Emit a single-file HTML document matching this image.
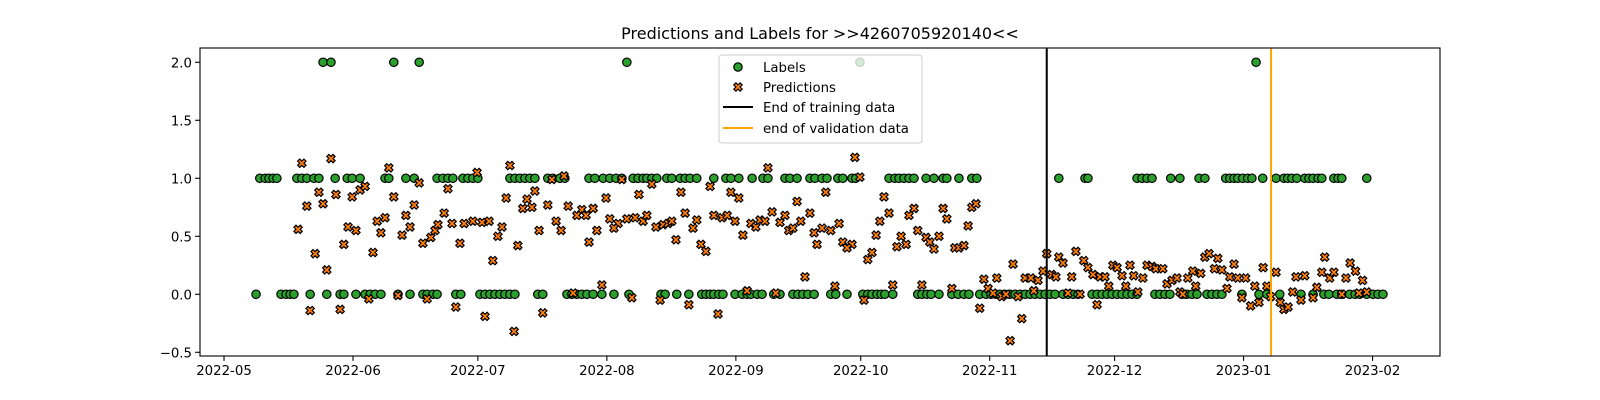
<!DOCTYPE html>
<html><head><meta charset="utf-8"><title>Predictions and Labels</title>
<style>
html,body{margin:0;padding:0;background:#fff;}
svg{display:block;font-family:"DejaVu Sans","Liberation Sans",sans-serif;}
</style></head>
<body>
<svg id="chart" width="1600" height="400" viewBox="0 0 1600 400" xmlns="http://www.w3.org/2000/svg">
<rect x="0" y="0" width="1600" height="400" fill="#fff"/>
<text x="820" y="39" font-size="16" text-anchor="middle">Predictions and Labels for &gt;&gt;4260705920140&lt;&lt;</text>
<g id="plot"></g>
<g id="legend">
<rect x="719" y="55" width="203" height="88" rx="3" fill="#fff" fill-opacity="0.8" stroke="#cccccc" stroke-width="1"/>
<g><circle cx="738" cy="67" r="4.2" fill="#2ca02c" stroke="#000" stroke-width="1.2"/><text x="763" y="72" font-size="13.3">Labels</text></g>
<g><path id="legX" fill="#ff7f0e" stroke="#000" stroke-width="1.2"/><text x="763" y="92" font-size="13.3">Predictions</text></g>
<g><line x1="723" y1="107" x2="753" y2="107" stroke="#000" stroke-width="2"/><text x="763" y="112" font-size="13.3">End of training data</text></g>
<g><line x1="723" y1="128" x2="753" y2="128" stroke="#ffa500" stroke-width="2"/><text x="763" y="133" font-size="13.3">end of validation data</text></g>
</g>
</svg>
<script>
// days since 2022-05-01
const label1Days=[8.6,9.9,10.8,11.8,12.7,17.5,18.7,19.9,21.6,22.8,26.7,29.6,30.8,32.7,38.7,39.6,43.7,45.7,51.2,52.6,53.8,55.0,57.4,58.6,59.8,61.0,68.7,69.9,71.1,72.3,73.5,74.7,77.8,79.0,80.7,81.9,87.7,89.1,91.1,92.7,94.2,95.6,98.3,99.5,100.7,101.6,102.8,104.0,106.4,107.6,109.6,110.8,112.0,113.6,117.7,120.6,121.8,123.7,126.9,129.5,130.7,134.8,136.0,137.7,140.8,142.0,143.7,144.9,147.5,148.7,150.9,151.8,159.8,161.2,162.2,163.4,164.6,165.8,168.7,170.6,172.8,173.7,176.6,179.7,180.9,200.6,206.9,207.6,219.4,220.6,221.8,223.0,227.5,229.7,234.3,235.7,240.7,241.7,242.7,243.6,244.8,246.0,247.0,249.6,252.8,254.7,255.6,256.6,257.8,259.7,260.7,261.7,262.9,263.8,266.7,267.7,268.6,274.6];
const label0Days=[7.7,13.7,14.9,15.9,16.8,20.7,24.7,27.9,28.8,31.7,33.9,35.1,36.3,37.7,41.8,44.7,47.8,48.8,50.2,51.2,55.7,56.9,61.5,62.7,63.9,65.1,66.3,67.5,68.7,69.9,75.4,76.6,82.4,83.6,84.8,86.0,87.2,88.7,90.8,93.7,97.3,105.0,106.0,108.8,111.7,114.8,115.8,116.8,117.7,118.9,119.9,122.8,124.5,125.7,126.6,128.1,129.3,132.1,133.6,136.7,137.9,139.1,140.3,141.8,145.8,147.0,149.7,153.5,154.7,155.7,156.9,157.9,158.8,160.7,166.7,167.7,168.9,169.9,171.8,174.9,176.4,177.8,179.0,181.6,183.1,184.3,185.5,186.4,187.6,188.9,190.1,191.3,192.5,193.7,194.9,196.1,197.3,198.5,199.7,201.6,202.8,204.0,205.2,208.6,209.8,211.0,212.2,213.4,214.6,215.8,217.0,218.2,219.4,223.7,224.9,226.1,227.3,230.2,231.4,232.6,233.8,236.2,237.4,238.6,239.8,244.6,248.7,250.6,253.7,258.8,261.7,264.3,265.5,267.4,268.6,270.5,271.8,272.9,274.6,276.1,277.3,278.5];
const label2Days=[23.8,25.7,40.8,46.9,96.8,152.8,248.0];
const predDays=[18.7,25.7,39.6,22.8,26.9,19.9,23.8,30.8,32.7,33.9,40.8,46.9,45.7,17.8,29.8,31.7,36.8,38.7,37.7,43.7,44.7,42.8,47.8,49.7,50.7,51.4,21.9,28.8,35.8,24.7,20.7,27.9,34.8,41.8,48.8,
68.7,60.8,53.8,78.8,81.7,95.6,67.8,74.7,72.8,71.8,74.0,77.8,82.7,91.8,52.9,86.0,84.8,87.0,88.7,54.8,57.7,59.8,62.0,63.7,66.8,79.8,92.7,94.7,96.8,93.7,65.8,75.7,81.0,89.6,56.7,70.6,87.7,64.6,90.8,83.9,55.7,62.7,76.6,69.7,
130.7,102.8,99.7,109.8,116.8,121.8,123.7,137.7,98.8,100.7,101.6,103.8,105.5,106.7,107.6,110.8,113.6,112.7,117.7,119.7,120.9,122.8,126.6,127.8,128.8,130.0,131.7,133.6,134.8,135.7,136.7,138.6,140.8,141.8,142.5,108.6,114.6,115.8,124.7,139.6,98.0,104.8,125.7,132.6,111.7,118.7,
151.6,152.8,144.6,158.6,159.8,165.8,164.6,172.8,173.7,179.7,180.7,157.6,147.8,143.7,145.8,166.7,178.8,156.7,162.7,168.7,171.8,148.7,150.9,149.7,161.7,163.9,169.6,170.6,175.6,176.6,177.8,155.7,154.7,182.6,185.7,146.8,160.7,167.7,174.9,183.6,184.8,186.9,187.9,153.8,181.6,188.9,
197.7,200.6,201.6,204.7,206.6,207.6,208.8,189.6,196.8,198.9,199.9,192.5,193.9,195.6,203.7,210.5,211.7,213.6,214.6,217.7,215.8,218.6,220.8,221.8,223.0,223.9,225.6,212.6,216.7,194.6,202.8,205.7,219.6,190.8,191.7,209.8,226.6,227.8,229.0,232.8,229.7,
235.7,236.7,238.8,238.0,239.8,234.7,231.6,233.5,230.4,242.7,241.7,243.6,245.5,241.0,244.6,247.7,249.7,250.6,246.7,248.7,251.5,252.8,253.8,254.7,255.7,256.8,257.6,259.7,258.8,261.7,262.6,263.8,264.5,265.7,266.7,268.6,269.6,270.6,271.9,273.6,272.7,274.6];
const predVals=[1.13,1.17,1.09,0.88,0.86,0.76,0.78,0.84,0.90,0.93,0.84,0.96,0.77,0.56,0.58,0.55,0.63,0.66,0.53,0.68,0.58,0.51,0.44,0.49,0.55,0.60,0.35,0.43,0.36,0.21,-0.14,-0.13,-0.04,-0.01,-0.04,
1.11,1.05,0.91,0.99,1.02,0.99,0.83,0.89,0.82,0.74,0.75,0.77,0.76,0.83,0.70,0.73,0.68,0.68,0.74,0.61,0.61,0.63,0.62,0.63,0.58,0.63,0.65,0.61,0.65,0.57,0.50,0.55,0.55,0.55,0.44,0.42,0.45,0.29,0.08,0.01,-0.11,-0.19,-0.16,-0.32,
1.09,0.95,0.86,0.88,0.93,0.88,0.83,0.80,0.66,0.63,0.68,0.58,0.60,0.61,0.63,0.70,0.64,0.57,0.68,0.66,0.68,0.63,0.61,0.58,0.64,0.63,0.71,0.62,0.68,0.55,0.57,0.63,0.70,0.53,0.43,0.47,0.43,0.37,0.51,0.15,-0.03,-0.05,0.03,0.01,-0.09,-0.17,
1.18,1.01,0.88,0.84,0.70,0.74,0.68,0.74,0.65,0.75,0.78,0.63,0.61,0.57,0.55,0.55,0.59,0.51,0.50,0.49,0.50,0.45,0.43,0.40,0.41,0.43,0.45,0.39,0.40,0.40,0.42,0.36,0.30,0.13,0.14,0.07,0.08,0.08,0.05,0.05,0.01,-0.02,0.00,-0.05,-0.12,-0.40,
0.35,0.32,0.27,0.37,0.29,0.23,0.17,0.26,0.20,0.17,0.15,0.14,0.14,0.12,0.15,0.15,0.15,0.25,0.23,0.25,0.16,0.16,0.14,0.25,0.24,0.22,0.22,0.07,0.07,0.03,0.01,0.00,0.02,-0.02,-0.21,-0.09,0.09,0.12,0.14,0.20,0.02,
0.32,0.35,0.31,0.22,0.21,0.18,0.14,0.07,0.00,0.26,0.15,0.14,0.14,0.05,-0.03,0.07,0.23,0.07,-0.10,-0.07,-0.02,0.19,-0.07,-0.13,-0.11,0.02,0.15,0.16,-0.05,-0.03,0.06,0.19,0.32,0.14,0.19,0.00,0.14,0.27,0.20,0.12,0.01,0.02];
const trainEndDay=197.7;
const valEndDay=251.6;
const xTickDays=[0,31,61,92,123,153,184,214,245,276];
const xTickLabels=["2022-05","2022-06","2022-07","2022-08","2022-09","2022-10","2022-11","2022-12","2023-01","2023-02"];
const yTickVals=[-0.5,0,0.5,1,1.5,2];
const yTickLabels=["\u22120.5","0.0","0.5","1.0","1.5","2.0"];

const L=200,R=1440,T=48,B=356;
const XMIN=-5.77,XMAX=292.2,YMIN=-0.532,YMAX=2.123;
function sx(d){return L+(d-XMIN)/(XMAX-XMIN)*(R-L);}
function sy(v){return B-(v-YMIN)/(YMAX-YMIN)*(B-T);}
const NS="http://www.w3.org/2000/svg";
const plot=document.getElementById('plot');
function mk(tag,attrs,parent){const e=document.createElementNS(NS,tag);for(const k in attrs)e.setAttribute(k,attrs[k]);(parent||plot).appendChild(e);return e;}
function xPath(cx,cy,s){const v=[[-1,-2],[0,-1],[1,-2],[2,-1],[1,0],[2,1],[1,2],[0,1],[-1,2],[-2,1],[-1,0],[-2,-1]];return 'M'+v.map(p=>(cx+p[0]*s).toFixed(2)+','+(cy+p[1]*s).toFixed(2)).join('L')+'Z';}
document.getElementById('legX').setAttribute('d',xPath(738,87,2.08));

// labels
const lg=mk('g',{});


function addLabel(d,v){const c=mk('circle',{cx:sx(d).toFixed(2),cy:sy(v).toFixed(2),r:4.2,fill:'#2ca02c',stroke:'#000','stroke-width':1.2},lg);

}
label0Days.forEach(d=>addLabel(d,0));
label1Days.forEach(d=>addLabel(d,1));
label2Days.forEach(d=>addLabel(d,2));
// predictions
const pg=mk('g',{});


predDays.forEach((d,i)=>{const p=mk('path',{d:xPath(sx(d),sy(predVals[i]),2.08),fill:'#ff7f0e',stroke:'#000','stroke-width':1.2},pg);

});
// vertical lines
const tl=mk('line',{x1:sx(trainEndDay),x2:sx(trainEndDay),y1:T,y2:B,stroke:'#000','stroke-width':2});


const vl=mk('line',{x1:sx(valEndDay),x2:sx(valEndDay),y1:T,y2:B,stroke:'#ffa500','stroke-width':2});


// axes frame
const fr=mk('rect',{x:L,y:T,width:R-L,height:B-T,fill:'none',stroke:'#000','stroke-width':1.1});


// x ticks
xTickDays.forEach((d,i)=>{const x=sx(d);mk('line',{x1:x,x2:x,y1:B,y2:B+4.9,stroke:'#000','stroke-width':1.1});
const t=mk('text',{x:x,y:B+19,'font-size':13.3,'text-anchor':'middle'});t.textContent=xTickLabels[i];

});
yTickVals.forEach((v,i)=>{const y=sy(v);mk('line',{x1:L-4.9,x2:L,y1:y,y2:y,stroke:'#000','stroke-width':1.1});
const t=mk('text',{x:L-8,y:y+5,'font-size':13.3,'text-anchor':'end'});t.textContent=yTickLabels[i];

});
// legend on top
document.getElementById('chart').appendChild(document.getElementById('legend'));
</script>
</body></html>
